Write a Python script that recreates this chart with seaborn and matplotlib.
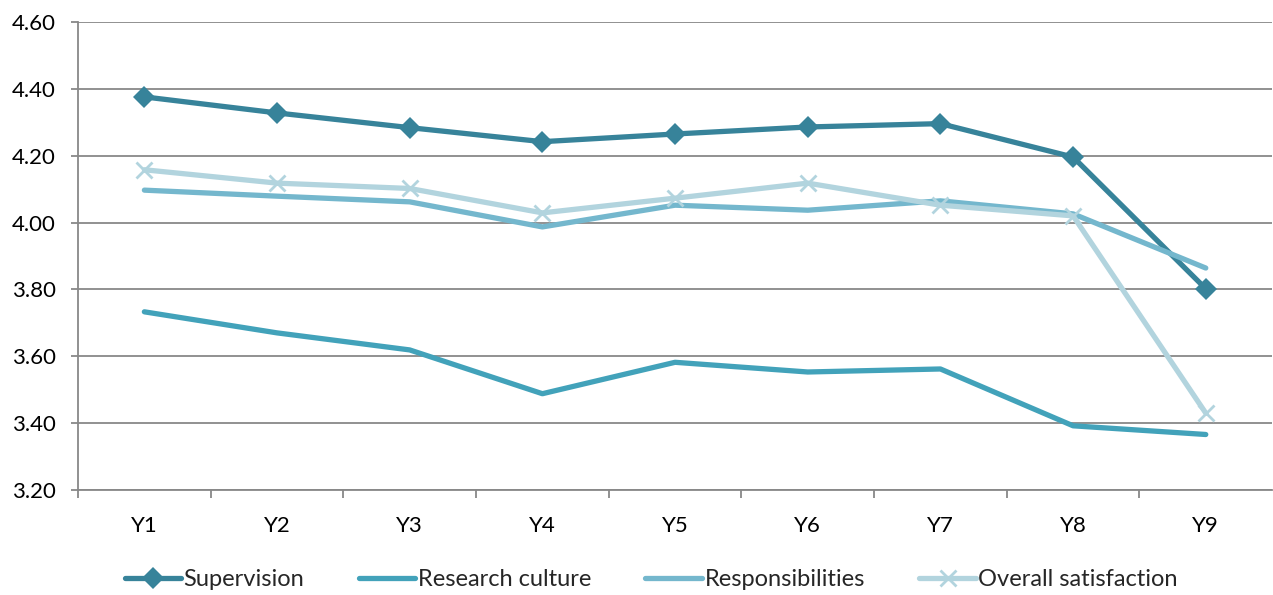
import pandas as pd
import numpy as np
import matplotlib
matplotlib.use("Agg")
import matplotlib.pyplot as plt
import seaborn as sns
from matplotlib.ticker import FixedLocator, FormatStrFormatter

# data
years = ["Y1", "Y2", "Y3", "Y4", "Y5", "Y6", "Y7", "Y8", "Y9"]
supervision = [4.376, 4.328, 4.284, 4.242, 4.265, 4.286, 4.296, 4.196, 3.802]
research_culture = [3.733, 3.670, 3.619, 3.488, 3.582, 3.553, 3.562, 3.392, 3.366]
responsibilities = [4.097, 4.079, 4.062, 3.987, 4.052, 4.037, 4.065, 4.026, 3.864]
overall = [4.158, 4.118, 4.102, 4.029, 4.073, 4.118, 4.052, 4.020, 3.430]

series_names = ["Supervision", "Research culture", "Responsibilities", "Overall satisfaction"]
series_values = [supervision, research_culture, responsibilities, overall]

df = pd.DataFrame({
    "Year": years * len(series_names),
    "Series": np.repeat(series_names, len(years)),
    "Score": np.concatenate(series_values),
})
df["x"] = df["Year"].map({y: i for i, y in enumerate(years)})

sns.set_style("white")
plt.rcParams["font.family"] = ["Lato", "DejaVu Sans"]

colors = ["#37839A", "#42A2BA", "#74B7CD", "#B2D4DE"]
markers = ["D", None, None, "x"]

fig = plt.figure(figsize=(12.73, 5.95), dpi=100)
ax = fig.add_axes([0.0613, 0.1765, 0.938, 0.7865])

for name, col, mk in zip(series_names, colors, markers):
    sub = df[df["Series"] == name]
    kw = dict(marker=mk, markersize=11, markeredgewidth=2 if mk == "x" else 0,
              markeredgecolor=col) if mk else {}
    sns.lineplot(data=sub, x="x", y="Score", color=col, linewidth=3.8,
                 label=name, ax=ax, solid_capstyle="round", **kw)

ax.set_xlim(-0.5, len(years) - 0.5)
ax.set_ylim(3.2, 4.6)
ax.set_yticks(np.arange(3.2, 4.61, 0.2))
ax.yaxis.set_major_formatter(FormatStrFormatter("%.2f"))
ax.set_xticks(range(len(years)))
ax.set_xticklabels(years)
ax.xaxis.set_minor_locator(FixedLocator(np.arange(-0.5, len(years) - 1, 1.0)))
ax.set_xlabel("")
ax.set_ylabel("")

ax.grid(axis="y", color="#888888", linewidth=1.3)
ax.set_axisbelow(True)
for s in ["top", "right"]:
    ax.spines[s].set_visible(False)
for s in ["left", "bottom"]:
    ax.spines[s].set_color("#888888")
    ax.spines[s].set_linewidth(1.3)

ax.tick_params(axis="y", which="major", left=True, length=5, width=1.3,
               color="#888888", labelsize=16, pad=11, labelcolor="black")
ax.tick_params(axis="x", which="major", bottom=False, labelsize=16, pad=15,
               labelcolor="black")
ax.tick_params(axis="x", which="minor", bottom=True, length=6, width=1.3,
               color="#888888")

leg = ax.legend(loc="lower center", bbox_to_anchor=(0.48, -0.26), ncol=4,
                frameon=False, fontsize=17, handlelength=2.4, handletextpad=0.1,
                columnspacing=2.3)

fig.savefig("out.png", dpi=100)
